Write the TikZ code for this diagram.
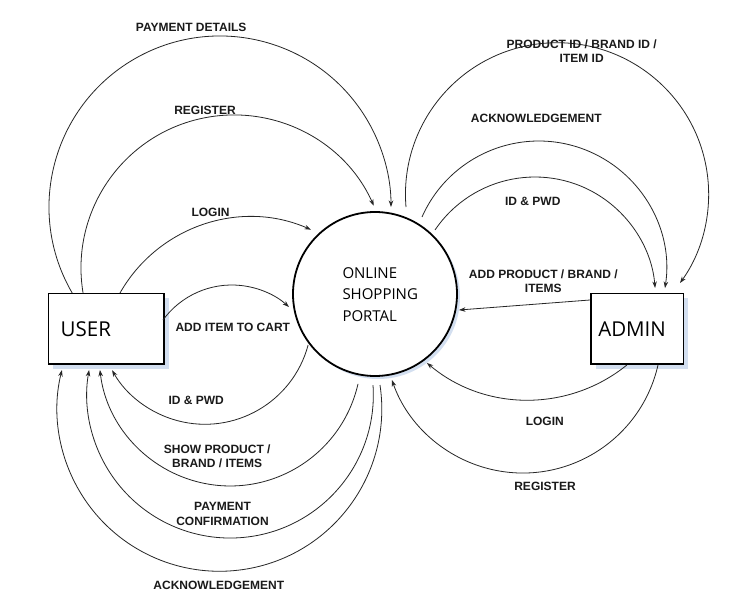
\documentclass[tikz,border=0pt]{standalone}
\usepackage{fontspec}
\setmainfont{Liberation Sans}
\newfontfamily\osans{Open Sans}
\usetikzlibrary{arrows.meta,calc,shadows}
\definecolor{shadowblue}{HTML}{D3DFF0}
\definecolor{linegray}{HTML}{262626}
\definecolor{labelgray}{HTML}{1A1A1A}
\begin{document}
\begin{tikzpicture}[x=1pt,y=-1pt,
  flow/.style={draw=linegray, line width=0.8pt, -{Stealth[length=6.5pt,width=4.5pt]}},
  lbl/.style={font=\fontsize{12}{14.5}\selectfont\bfseries, text=labelgray, inner sep=0pt, anchor=north, align=center},
  extbox/.style={draw=black, line width=1.6pt, fill=white, inner ysep=0pt, minimum height=70.7pt, align=left,
    font=\osans\fontsize{20.5}{24}\selectfont,
    drop shadow={shadow xshift=5pt, shadow yshift=-5pt, fill=shadowblue, opacity=1}},
  proc/.style={circle, draw=black, line width=1.8pt, fill=white, minimum size=164pt, inner sep=0pt,
    drop shadow={shadow xshift=3pt, shadow yshift=-3pt, fill=shadowblue, opacity=1}},
  ptext/.style={font=\osans\fontsize{15}{21.5}\selectfont, align=left, inner sep=0pt, anchor=north west}
]
\useasboundingbox[fill=white] (0,0) rectangle (739,607);

% nodes
\node[proc] (portal) at (375,294) {};
\node[ptext] (ptxt) at (342.3,267) {ONLINE\\SHOPPING\\PORTAL};
\node[extbox, text width=91pt, inner xsep=12.4pt] (user) at (106.2,328.7) {USER};
\node[extbox, text width=77.4pt, inner xsep=7.6pt] (admin) at (637,328.7) {ADMIN};

% connector end points on the nodes
\coordinate (a1s) at ($(user.center)+(-34,-35.7)$);
\coordinate (a2s) at ($(user.center)+(-23.1,-35.5)$);
\coordinate (a3s) at ($(user.center)+(13.8,-35.7)$);
\coordinate (a4s) at ($(user.center)+(56.8,-8.7)$);
\coordinate (b1s) at ($(portal.center)+(-66.9,51.1)$);
\coordinate (b2s) at ($(portal.center)+(-17,89.9)$);
\coordinate (b3s) at ($(portal.center)+(-2,91.1)$);
\coordinate (b4s) at ($(portal.center)+(5,91)$);
\coordinate (c1s) at ($(portal.center)+(31,-87)$);
\coordinate (c2s) at ($(portal.center)+(47,-77)$);
\coordinate (c3s) at ($(portal.center)+(60,-64)$);
\coordinate (d1s) at ($(admin.center)+(-10.1,36.3)$);
\coordinate (d2s) at ($(admin.center)+(21,36.3)$);
\coordinate (adminout) at ($(admin.center)+(-47,-28.7)$);
\coordinate (portalin) at ($(portal.center)+(84,16)$);

% user -> portal
\draw[flow] (a1s) arc[start angle=149.8, end angle=360, radius=171];
\draw[flow] (a2s) arc[start angle=170.5, end angle=336, radius=153];
\draw[flow] (a3s) arc[start angle=209.6, end angle=293.7, radius=150.2];
\draw[flow] (a4s) arc[start angle=216.1, end angle=312.1, radius=85.2];
% portal -> user
\draw[flow] (b1s) arc[start angle=15, end angle=150.4, radius=106.8];
\draw[flow] (b2s) arc[start angle=12.8, end angle=173.4, radius=131.1];
\draw[flow] (b3s) arc[start angle=-3.9, end angle=190, radius=143.2];
\draw[flow] (b4s) arc[start angle=-8.5, end angle=193.9, radius=162.3];
% portal -> admin
\draw[flow] (c1s) arc[start angle=175.2, end angle=395.8, radius=151.6];
\draw[flow] (c2s) arc[start angle=203.9, end angle=368.7, radius=127.7];
\draw[flow] (c3s) arc[start angle=214.1, end angle=355.4, radius=120.6];
% admin -> portal
\draw[flow] (d1s) arc[start angle=51, end angle=130.2, radius=156.9];
\draw[flow] (d2s) arc[start angle=12.75, end angle=160.8, radius=138.6];
\draw[flow] (adminout) -- (portalin);

% labels
\node[lbl] (lpay) at (191.2,23.3) {PAYMENT DETAILS};
\node[lbl] (lreg) at (205,106) {REGISTER};
\node[lbl] (llog) at (210.5,208.3) {LOGIN};
\node[lbl] (lcart) at (232.8,322.7) {ADD ITEM TO CART};
\node[lbl] (lidu) at (196.2,396) {ID \& PWD};
\node[lbl] (lshow) at (217.2,444.3) {SHOW PRODUCT /\\BRAND / ITEMS};
\node[lbl] (lpconf) at (222.5,502.3) {PAYMENT\\CONFIRMATION};
\node[lbl] (lacku) at (218.8,580.7) {ACKNOWLEDGEMENT};
\node[lbl] (lprod) at (581.7,39.3) {PRODUCT ID / BRAND ID /\\ITEM ID};
\node[lbl] (lacka) at (536.3,114.3) {ACKNOWLEDGEMENT};
\node[lbl] (lida) at (532.8,196.7) {ID \& PWD};
\node[lbl] (ladd) at (543.3,269.3) {ADD PRODUCT / BRAND /\\ITEMS};
\node[lbl] (lloga) at (544.8,416.7) {LOGIN};
\node[lbl] (lrega) at (545,482.3) {REGISTER};
\end{tikzpicture}
\end{document}
